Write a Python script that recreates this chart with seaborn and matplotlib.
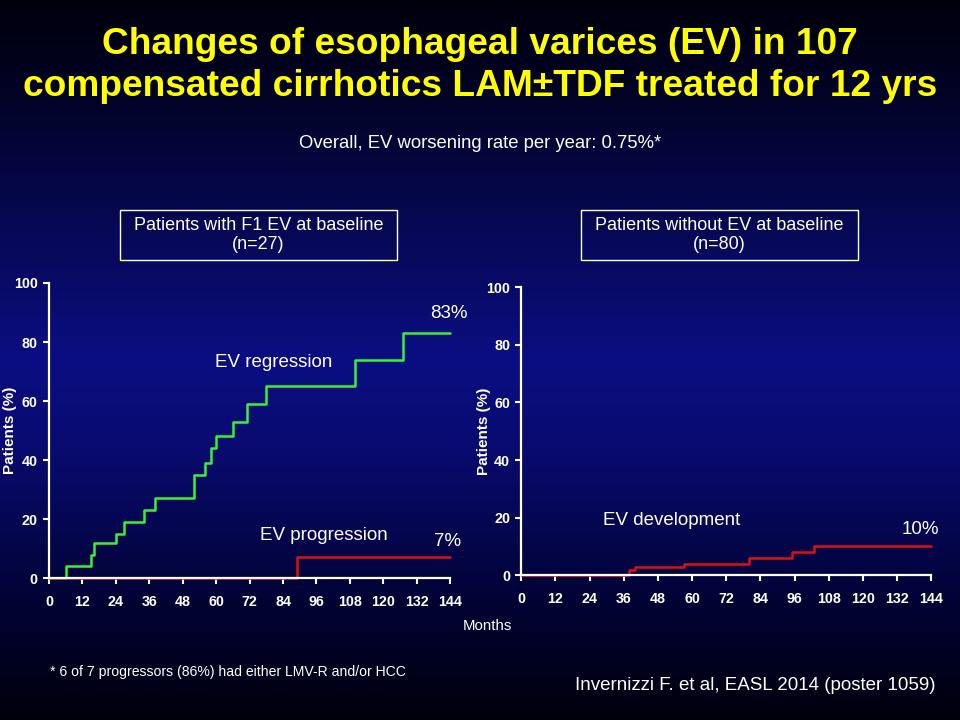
import matplotlib
matplotlib.use("Agg")
import numpy as np
import matplotlib.pyplot as plt
import seaborn as sns
from matplotlib.colors import LinearSegmentedColormap
from matplotlib.patches import Rectangle

# ---------------------------------------------------------------------------
# Data
# ---------------------------------------------------------------------------

regression_months = [0, 6, 15, 16, 24, 27, 34, 38, 52, 56, 58, 60, 66, 71, 78, 110, 127, 144]
regression_pct = [0, 4, 8, 12, 15, 19, 23, 27, 35, 39, 44, 48, 53, 59, 65, 74, 83, 83]

progression_months = [0, 89, 144]
progression_pct = [0, 7, 7]

development_months = [0, 38, 40, 57, 80, 95, 103, 144]
development_pct = [0, 2, 3, 4, 6, 8, 10, 10]

month_ticks = list(range(0, 145, 12))
pct_ticks = [0, 20, 40, 60, 80, 100]

# ---------------------------------------------------------------------------
# Style
# ---------------------------------------------------------------------------

sns.set_theme(style="ticks")
plt.rcParams["font.family"] = ["Liberation Sans", "DejaVu Sans"]
plt.rcParams["text.color"] = "white"
plt.rcParams["axes.edgecolor"] = "white"
plt.rcParams["xtick.color"] = "white"
plt.rcParams["ytick.color"] = "white"

GREEN = "#38f238"
RED = "#dd1111"
YELLOW = "#ffff00"

fig = plt.figure(figsize=(9.6, 7.2), dpi=100)

# slide background: dark -> navy -> dark
bg = fig.add_axes([0, 0, 1, 1], zorder=-10)
cmap = LinearSegmentedColormap.from_list(
    "slide",
    [(0.0, "#00000c"), (0.12, "#020224"), (0.5, "#0b0e82"),
     (0.62, "#090b70"), (0.82, "#020338"), (1.0, "#00000c")],
)
grad = np.linspace(0, 1, 256).reshape(-1, 1)
bg.imshow(grad, aspect="auto", cmap=cmap, extent=[0, 1, 0, 1])
bg.axis("off")


def style_axes(ax, label_x):
    ax.set_facecolor("none")
    ax.set_xlim(0, 144)
    ax.set_ylim(0, 100)
    ax.set_xticks(month_ticks)
    ax.set_yticks(pct_ticks)
    sns.despine(ax=ax)
    for s in ("left", "bottom"):
        ax.spines[s].set_linewidth(1.6)
    ax.tick_params(axis="x", length=4, width=1.5, pad=8, labelsize=10.3)
    ax.tick_params(axis="y", length=4, width=1.5, pad=4, labelsize=10.3)
    for lab in ax.get_xticklabels() + ax.get_yticklabels():
        lab.set_fontweight("bold")
    ax.set_xlabel("")
    ax.set_ylabel("Patients (%)", fontsize=11, fontweight="bold", color="white")
    ax.yaxis.set_label_coords(label_x, 0.5)


# ---------------------------------------------------------------------------
# Left panel — F1 EV at baseline
# ---------------------------------------------------------------------------

ax1 = fig.add_axes([0.051, 0.197, 0.418, 0.410])
sns.lineplot(x=regression_months, y=regression_pct, drawstyle="steps-post",
             color=GREEN, lw=1.8, ax=ax1, clip_on=False)
sns.lineplot(x=progression_months, y=progression_pct, drawstyle="steps-post",
             color=RED, lw=1.8, ax=ax1, clip_on=False)
style_axes(ax1, -0.079)
ax1.text(143.6, 89.5, "83%", ha="center", va="center", fontsize=13.5)
ax1.text(80.8, 73.2, "EV regression", ha="center", va="center", fontsize=13.5)
ax1.text(98.8, 14.6, "EV progression", ha="center", va="center", fontsize=13.5)
ax1.text(142.9, 12.5, "7%", ha="center", va="center", fontsize=13.5)

# ---------------------------------------------------------------------------
# Right panel — no EV at baseline
# ---------------------------------------------------------------------------

ax2 = fig.add_axes([0.543, 0.201, 0.427, 0.400])
sns.lineplot(x=development_months, y=development_pct, drawstyle="steps-post",
             color=RED, lw=1.8, ax=ax2, clip_on=False)
style_axes(ax2, -0.075)
ax2.text(52.7, 19.1, "EV development", ha="center", va="center", fontsize=13.5)
ax2.text(140.1, 16.0, "10%", ha="center", va="center", fontsize=13.5)

# ---------------------------------------------------------------------------
# Slide texts
# ---------------------------------------------------------------------------

fig.text(0.5, 1 - 44 / 720, "Changes of esophageal varices (EV) in 107",
         ha="center", va="center", fontsize=26.7, fontweight="bold", color=YELLOW)
fig.text(0.5, 1 - 86 / 720, "compensated cirrhotics LAM\u00b1TDF treated for 12 yrs",
         ha="center", va="center", fontsize=26.7, fontweight="bold", color=YELLOW)
fig.text(0.5, 1 - 143 / 720, "Overall, EV worsening rate per year: 0.75%*",
         ha="center", va="center", fontsize=13.3)

for x0, label in [(120, "Patients with F1 EV at baseline\n(n=27)"),
                  (581, "Patients without EV at baseline\n(n=80)")]:
    fig.add_artist(Rectangle((x0 / 960, 1 - 260 / 720), 277 / 960, 50 / 720,
                             transform=fig.transFigure, fill=False,
                             edgecolor="white", lw=1.0))
    fig.text((x0 + 138.5) / 960, 1 - 235 / 720, label, ha="center", va="center",
             fontsize=13, linespacing=1.08)

fig.text(487 / 960, 1 - 626 / 720, "Months", ha="center", va="center", fontsize=10.8)
fig.text(50 / 960, 1 - 672 / 720, "* 6 of 7 progressors (86%) had either LMV-R and/or HCC",
         ha="left", va="center", fontsize=10.1)
fig.text(755 / 960, 1 - 686 / 720, "Invernizzi F. et al, EASL 2014 (poster 1059)",
         ha="center", va="center", fontsize=13.5)

fig.savefig("out.png", dpi=100)
plt.close(fig)
